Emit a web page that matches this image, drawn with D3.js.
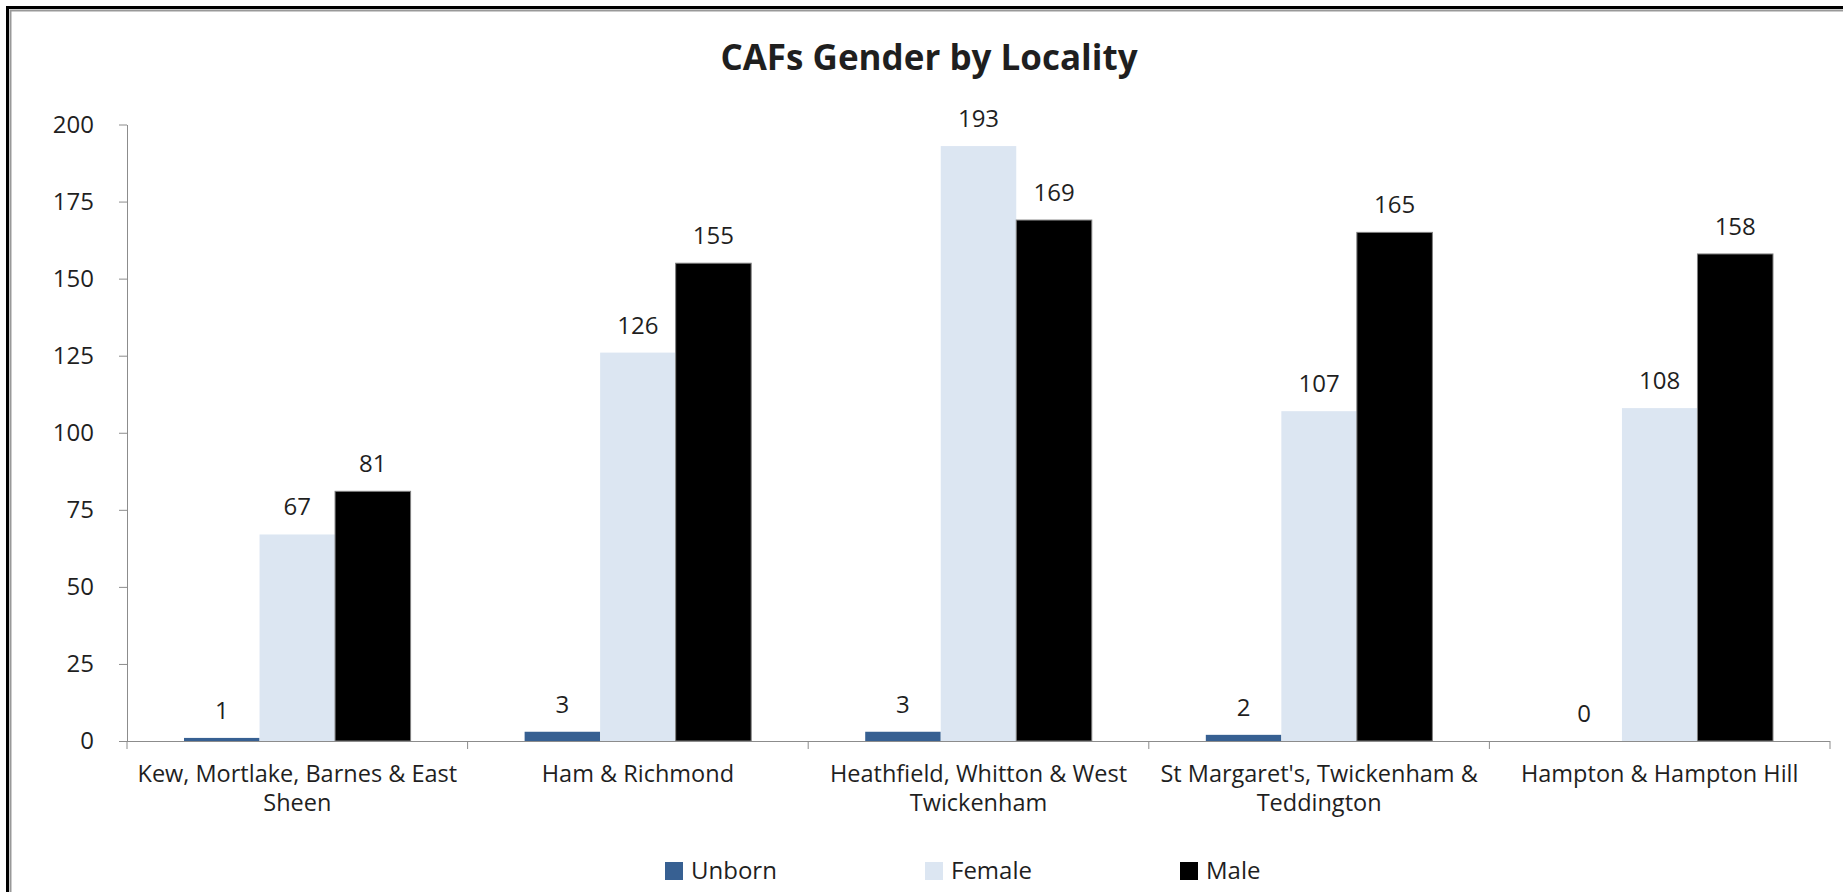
<!DOCTYPE html>
<html>
<head>
<meta charset="utf-8">
<script src="https://cdn.jsdelivr.net/npm/d3@7"></script>
<style>
  body { margin: 0; background: #fff; }
  text { font-family: "Open Sans", sans-serif; fill: #1f1f1f; }
  .axis path, .axis line { stroke: #8c8c8c; }
</style>
</head>
<body>
<script>
const WIDTH = 1843;
const HEIGHT = 892;
const LEFT = 127, RIGHT = 1830, TOP = 124.5, BOTTOM = 741;

var categories = [
  "Kew, Mortlake, Barnes & East\nSheen",
  "Ham & Richmond",
  "Heathfield, Whitton & West\nTwickenham",
  "St Margaret's, Twickenham &\nTeddington",
  "Hampton & Hampton Hill"
];
var seriesNames = ["Unborn", "Female", "Male"];
var unborn = [1, 3, 3, 2, 0];
var female = [67, 126, 193, 107, 108];
var male = [81, 155, 169, 165, 158];
var yTicks = [0, 25, 50, 75, 100, 125, 150, 175, 200];

var colors = {Unborn: "#376092", Female: "#dce6f2", Male: "#000000"};

var translate = function(x, y){
  return "translate(" + x + "," + y + ")";
};

var rows = categories.map(function(c, i){
  return {cat: c, values: [
    {key: "Unborn", v: unborn[i]},
    {key: "Female", v: female[i]},
    {key: "Male", v: male[i]}
  ]};
});

var svg = d3.select("body").append("svg")
  .attr("width", WIDTH)
  .attr("height", HEIGHT);

// frame (only top and left edges are inside the picture)
svg.append("path").attr("d", "M7.5," + HEIGHT + "V7.5H" + WIDTH)
  .attr("fill", "none").attr("stroke", "#000").attr("stroke-width", 3);
svg.append("path").attr("d", "M10.5," + HEIGHT + "V10.5H" + WIDTH)
  .attr("fill", "none").attr("stroke", "#999").attr("stroke-width", 2);

var x0 = d3.scaleBand().domain(categories).range([LEFT, RIGHT]).padding(0);
var bw = x0.bandwidth();
var x1 = d3.scaleBand().domain(seriesNames)
  .range([bw * 0.1674, bw * (1 - 0.1674)]).padding(0);
var y = d3.scaleLinear().domain([0, 200]).range([BOTTOM, TOP]);

// y axis
var yAxis = d3.axisLeft(y).tickValues(yTicks).tickSize(8).tickSizeOuter(0).tickPadding(25);
var yg = svg.append("g").attr("class", "axis").attr("transform", translate(LEFT, 0)).call(yAxis);
yg.selectAll("text").style("font-size", "24px").attr("fill", "#1f1f1f");

// bars
var groups = svg.selectAll(".cat").data(rows).enter().append("g")
  .attr("class", "cat")
  .attr("transform", function(d){ return translate(x0(d.cat), 0); });

groups.selectAll("rect").data(function(d){ return d.values; }).enter().append("rect")
  .attr("x", function(d){ return x1(d.key); })
  .attr("width", x1.bandwidth())
  .attr("y", function(d){ return y(d.v); })
  .attr("height", function(d){ return BOTTOM - y(d.v); })
  .attr("fill", function(d){ return colors[d.key]; })
  .attr("stroke", function(d){ return d.key === "Male" ? "#7f7f7f" : "none"; })
  .attr("stroke-width", 1);

groups.selectAll(".lbl").data(function(d){ return d.values; }).enter().append("text")
  .attr("class", "lbl")
  .attr("x", function(d){ return x1(d.key) + x1.bandwidth() / 2; })
  .attr("y", function(d){ return y(d.v) - 19; })
  .attr("text-anchor", "middle")
  .style("font-size", "24px")
  .text(function(d){ return d.v; });

// x axis
var xg = svg.append("g").attr("class", "axis").attr("transform", translate(0, BOTTOM));
xg.append("line").attr("x1", LEFT).attr("x2", RIGHT).attr("y1", 0.5).attr("y2", 0.5);
xg.selectAll(".tk").data(categories.concat(["end"])).enter().append("line")
  .attr("class", "tk")
  .attr("x1", function(d, i){ return LEFT + i * bw; })
  .attr("x2", function(d, i){ return LEFT + i * bw; })
  .attr("y1", 0).attr("y2", 8);

xg.selectAll(".cl").data(categories).enter().append("text")
  .attr("class", "cl")
  .attr("text-anchor", "middle")
  .style("font-size", "23.5px")
  .attr("transform", function(d){ return translate(x0(d) + bw / 2, 41); })
  .each(function(d){
    var t = d3.select(this);
    d.split("\n").forEach(function(line, i){
      t.append("tspan").attr("x", 0).attr("dy", i === 0 ? 0 : 29).text(line);
    });
  });

// title
svg.append("text")
  .attr("x", 929).attr("y", 70)
  .attr("text-anchor", "middle")
  .style("font-size", "35px")
  .style("font-weight", "bold")
  .attr("fill", "#000")
  .text("CAFs Gender by Locality");

// legend
var legendX = [665, 925, 1180];
var lg = svg.selectAll(".leg").data(seriesNames).enter().append("g")
  .attr("class", "leg")
  .attr("transform", function(d, i){ return translate(legendX[i], 862); });
lg.append("rect").attr("width", 18).attr("height", 18)
  .attr("fill", function(d){ return colors[d]; });
lg.append("text").attr("x", 26).attr("y", 17)
  .style("font-size", "24px")
  .text(function(d){ return d; });
</script>
</body>
</html>
